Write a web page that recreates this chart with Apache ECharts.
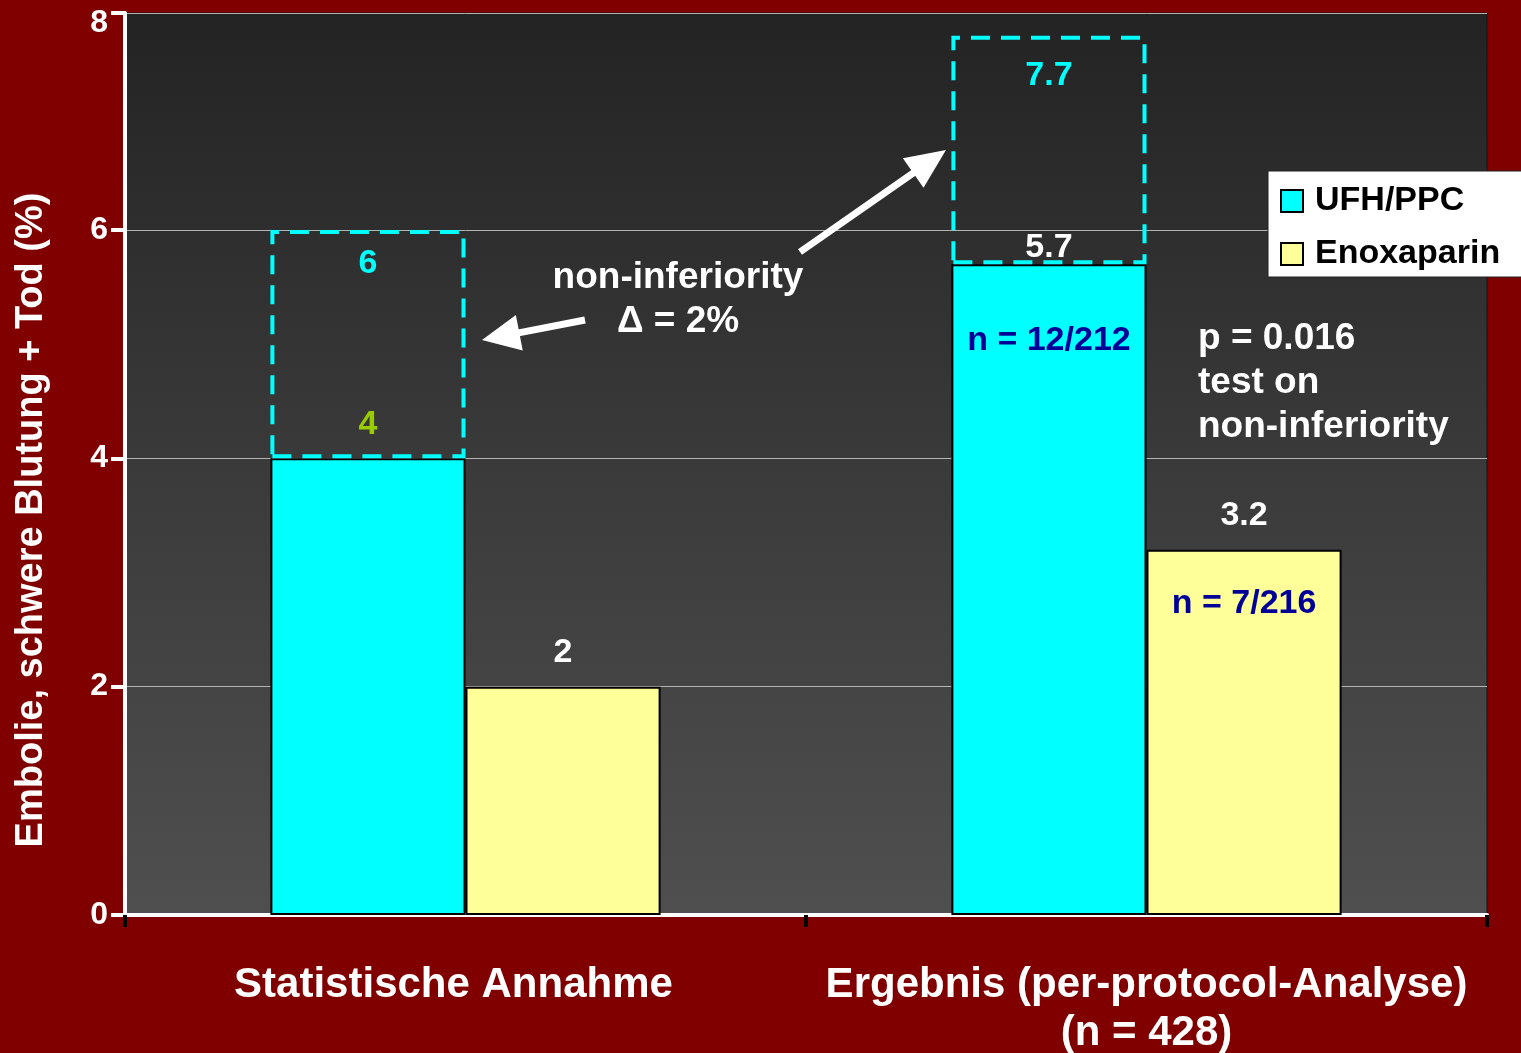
<!DOCTYPE html>
<html>
<head>
<meta charset="utf-8">
<title>Embolie, schwere Blutung + Tod</title>
<script src="https://cdn.jsdelivr.net/npm/echarts@6/dist/echarts.min.js"></script>
<style>
  html, body { margin: 0; padding: 0; background: #800000; }
  #chart { width: 1521px; height: 1053px; }
</style>
</head>
<body>
<div id="chart"></div>
<script>
// ---- data ----
const categories = ['Statistische Annahme', 'Ergebnis (per-protocol-Analyse)\n(n = 428)'];
const seriesNames = ['UFH/PPC', 'Enoxaparin'];
const ufhValues = [4, 5.7];          // UFH/PPC event rate (%)
const enoxValues = [2, 3.2];         // Enoxaparin event rate (%)
const marginValues = [2, 2];         // non-inferiority margin Δ (%)
const ufhCounts = ['', 'n = 12/212'];
const enoxCounts = ['', 'n = 7/216'];
const yTickValues = [0, 2, 4, 6, 8];
const yAxisTop = 7.9;                // axis is cut just below the 8 line

// ---- styles ----
const FONT = 'Arial, "Liberation Sans", Helvetica, sans-serif';
const CYAN = '#00ffff';
const YELLOW = '#ffff99';
const NAVY = '#000099';
const ufhLabelColors = ['#99cc00', '#ffffff'];
const ufhLabelDistances = [17, 0];
const marginLabelDistances = [17, 23];

const chart = echarts.init(document.getElementById('chart'), null, { renderer: 'canvas' });

const valueLabel = {
  show: true, position: 'top', distance: 17,
  color: '#ffffff', fontFamily: FONT, fontWeight: 'bold', fontSize: 34
};

function countMarks(values, counts, offsetY) {
  return counts
    .map((txt, i) => txt ? { coord: [i, values[i]], name: txt, label: { offset: [0, offsetY] } } : null)
    .filter(Boolean);
}

const countLabel = {
  show: true, position: 'inside', formatter: p => p.name,
  color: NAVY, fontFamily: FONT, fontWeight: 'bold', fontSize: 34
};

const xLabelFont = { color: '#ffffff', fontFamily: FONT, fontWeight: 'bold', fontSize: 42, lineHeight: 48 };
const yLabelFont = { color: '#ffffff', fontFamily: FONT, fontWeight: 'bold', fontSize: 32 };

const option = {
  backgroundColor: '#800000',
  animation: false,
  grid: {
    left: 125, right: 34, top: 13, bottom: 138,
    outerBoundsMode: 'none',
    containLabel: false,
    show: true,
    borderColor: '#151515', borderWidth: 1,
    backgroundColor: new echarts.graphic.LinearGradient(0, 0, 0, 1, [
      { offset: 0, color: '#232323' },
      { offset: 0.5, color: '#3a3a3a' },
      { offset: 1, color: '#4f4f4f' }
    ])
  },
  legend: {
    data: seriesNames,
    orient: 'vertical',
    left: 1268, top: 171,
    backgroundColor: '#ffffff',
    borderColor: '#222222', borderWidth: 1, borderRadius: 0,
    padding: [13, 60, 6, 12],
    itemWidth: 22, itemHeight: 22, itemGap: 19,
    icon: 'rect',
    itemStyle: { borderColor: '#000000', borderWidth: 2 },
    textStyle: { color: '#000000', fontFamily: FONT, fontWeight: 'bold', fontSize: 34, padding: [0, 0, 0, 7] }
  },
  xAxis: {
    type: 'category',
    data: categories,
    axisLine: { show: true, lineStyle: { color: '#ffffff', width: 4 } },
    axisTick: { show: true, alignWithLabel: false, length: 12, lineStyle: { color: '#000000', width: 4 } },
    axisLabel: Object.assign({
      margin: 46, interval: 0,
      // first category caption sits a little left of its band centre
      formatter: (value, index) => index === 0 ? '{left|' + value + '}' : value,
      rich: { left: Object.assign({ padding: [0, 24, 0, 0] }, xLabelFont) }
    }, xLabelFont),
    splitLine: { show: false }
  },
  yAxis: {
    type: 'value',
    min: 0, max: yAxisTop, interval: 2,
    name: 'Embolie, schwere Blutung + Tod (%)',
    nameLocation: 'middle',
    nameRotate: 90,
    nameGap: 74,
    nameTextStyle: {
      color: '#ffffff', fontFamily: FONT, fontWeight: 'bold', fontSize: 38,
      padding: [0, 112, 0, 0]
    },
    axisLine: { show: true, lineStyle: { color: '#ffffff', width: 4 } },
    axisTick: { show: true, length: 14, lineStyle: { color: '#ffffff', width: 4 } },
    axisLabel: Object.assign({
      margin: 17,
      formatter: v => {
        // snap the cut-off top tick onto its nominal value, drawn just below the tick
        const nearest = yTickValues.reduce((a, b) => Math.abs(b - v) < Math.abs(a - v) ? b : a);
        return v === yAxisTop ? '{top|' + nearest + '}' : String(nearest);
      },
      rich: { top: Object.assign({ padding: [20, 0, 0, 0] }, yLabelFont) }
    }, yLabelFont),
    splitLine: { show: true, lineStyle: { color: '#b4b4b4', width: 1 } }
  },
  series: [
    {
      name: seriesNames[0],
      type: 'bar',
      stack: 'ufh',
      barGap: '0%',
      barCategoryGap: '42.7%',
      itemStyle: { color: CYAN, borderColor: '#000000', borderWidth: 2 },
      data: ufhValues.map((v, i) => ({
        value: v,
        label: { color: ufhLabelColors[i], distance: ufhLabelDistances[i] }
      })),
      label: valueLabel,
      markPoint: {
        symbol: 'circle', symbolSize: 1,
        itemStyle: { color: 'rgba(0,0,0,0)' },
        label: countLabel,
        data: countMarks(ufhValues, ufhCounts, 76)
      },
      z: 2
    },
    {
      name: 'Margin',
      type: 'bar',
      stack: 'ufh',
      barGap: '0%',
      barCategoryGap: '42.7%',
      itemStyle: {
        color: 'rgba(0,0,0,0)',
        borderColor: CYAN, borderWidth: 4, borderType: [19, 11]
      },
      data: marginValues.map((v, i) => ({
        value: v,
        label: { distance: marginLabelDistances[i] }
      })),
      label: {
        show: true, position: 'insideTop',
        color: CYAN, fontFamily: FONT, fontWeight: 'bold', fontSize: 34,
        formatter: p => {
          const total = ufhValues[p.dataIndex] + marginValues[p.dataIndex];
          return String(Math.round(total * 10) / 10);
        }
      },
      z: 3
    },
    {
      name: seriesNames[1],
      type: 'bar',
      barGap: '0%',
      barCategoryGap: '42.7%',
      itemStyle: { color: YELLOW, borderColor: '#000000', borderWidth: 2 },
      data: enoxValues,
      label: valueLabel,
      markPoint: {
        symbol: 'circle', symbolSize: 1,
        itemStyle: { color: 'rgba(0,0,0,0)' },
        label: countLabel,
        data: countMarks(enoxValues, enoxCounts, 54)
      },
      z: 2
    }
  ]
};

// white annotation arrows: shaft plus a triangular head ending at the tip
function arrow(from, tip, headLen, headHalf, shaftWidth) {
  const dx = tip[0] - from[0], dy = tip[1] - from[1];
  const len = Math.sqrt(dx * dx + dy * dy);
  const ux = dx / len, uy = dy / len;
  const bx = tip[0] - headLen * ux, by = tip[1] - headLen * uy;
  const nx = -uy, ny = ux;
  return [
    {
      type: 'line', z: 20,
      shape: { x1: from[0], y1: from[1], x2: bx + ux * 2, y2: by + uy * 2 },
      style: { stroke: '#ffffff', lineWidth: shaftWidth }
    },
    {
      type: 'polygon', z: 20,
      shape: { points: [tip, [bx + headHalf * nx, by + headHalf * ny], [bx - headHalf * nx, by - headHalf * ny]] },
      style: { fill: '#ffffff' }
    }
  ];
}

const noteFont = { fontFamily: FONT, fontWeight: 'bold', fontSize: 37 };

option.graphic = [
  ...arrow([585, 320], [482, 340], 38, 18, 7),
  ...arrow([800, 252], [946, 150], 40, 18, 7),
  {
    type: 'text', z: 20, x: 678, y: 278,
    style: Object.assign({ text: 'non-inferiority', fill: '#ffffff', align: 'center', verticalAlign: 'middle' }, noteFont)
  },
  {
    type: 'text', z: 20, x: 678, y: 322,
    style: Object.assign({ text: '\u0394 = 2%', fill: '#ffffff', align: 'center', verticalAlign: 'middle' }, noteFont)
  },
  {
    type: 'text', z: 20, x: 1198, y: 317,
    style: Object.assign({ text: 'p = 0.016\ntest on\nnon-inferiority', fill: '#ffffff', align: 'left', verticalAlign: 'top', lineHeight: 44 }, noteFont)
  }
];

chart.setOption(option);
</script>
</body>
</html>
